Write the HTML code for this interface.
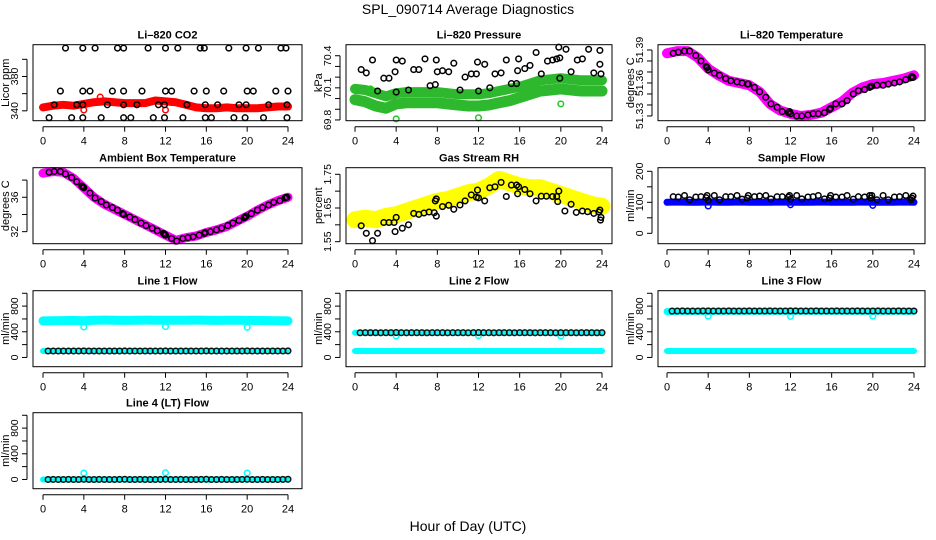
<!DOCTYPE html>
<html><head><meta charset="utf-8"><style>
html,body{margin:0;padding:0;background:#fff;}
svg{display:block;font-family:"Liberation Sans",Arial,sans-serif;}
</style></head><body>
<svg id="chart" width="936" height="540" viewBox="0 0 936 540" xmlns="http://www.w3.org/2000/svg">
<text x="468" y="14" text-anchor="middle" font-size="14">SPL_090714  Average Diagnostics</text>
<text x="468" y="531" text-anchor="middle" font-size="14">Hour of Day (UTC)</text>
</svg>
<script>
// ---- shared category arrays ----
const bandHours = [0,1,2,3,4,5,6,7,8,9,10,11,12,13,14,15,16,17,18,19,20,21,22,23,24];
const blackHours = [0.6,1.1,1.7,2.2,2.8,3.3,3.8,3.9,4.0,4.6,5.1,5.7,6.2,6.8,7.3,7.8,7.9,8.5,9.0,9.6,10.1,10.7,11.2,11.8,11.9,12.0,12.6,13.1,13.7,14.2,14.7,15.3,15.8,15.9,16.4,17.0,17.5,18.1,18.6,19.2,19.7,19.8,19.9,20.4,21.0,21.5,22.1,22.6,23.2,23.7,23.8,23.9];
const flowHours = [0.5,1.0,1.5,2.0,2.5,3.0,3.5,4.0,4.5,5.0,5.5,6.0,6.5,7.0,7.5,8.0,8.5,9.0,9.5,10.0,10.5,11.0,11.5,12.0,12.5,13.0,13.5,14.0,14.5,15.0,15.5,16.0,16.5,17.0,17.5,18.0,18.5,19.0,19.5,20.0,20.5,21.0,21.5,22.0,22.5,23.0,23.5,24.0];
const xTicks = [0,4,8,12,16,20,24];
const outlierHours = [4,12,20];

// ---- CO2 ----
const co2Band = [344,346,347,346,348,350,351,350,349,349,349,352,351,350,347,344,343,343,344,343,343,343,344,345,345];
const co2Hours = [2.2,3.9,5.1,7.3,7.9,10.3,12.0,13.2,15.4,15.8,18.2,19.9,21.1,23.3,23.8, 1.7,3.9,4.6,6.8,7.9,9.7,12.0,12.6,14.8,16.0,17.7,20.0,20.6,22.8,24.0, 1.1,3.3,3.9,6.3,7.9,9.2,11.3,11.9,14.1,15.9,17.1,19.2,19.9,22.1,23.9, 0.6,2.8,3.9,5.7,7.9,8.6,10.8,11.9,13.7,15.9,16.5,18.7,19.8,21.6,23.9];
const co2Values = [413,413,413,413,413,413,413,413,413,413,413,413,413,413,413, 363,363,363,363,363,363,363,363,363,363,363,363,363,363,363, 347,347,347,347,347,347,347,347,347,347,347,347,347,347,347, 332,332,332,332,332,332,332,332,332,332,332,332,332,332,332];
const co2OutH = [4.0,5.6,12.0];
const co2OutV = [341,356,341];

// ---- Pressure ----
const presUpper = [70.09,70.08,70.05,70.02,70.05,70.06,70.06,70.06,70.06,70.05,70.04,70.04,70.04,70.05,70.07,70.09,70.11,70.14,70.17,70.18,70.19,70.18,70.17,70.17,70.17];
const presLower = [69.99,69.97,69.93,69.91,69.95,69.96,69.96,69.96,69.96,69.95,69.94,69.93,69.93,69.94,69.96,69.98,70.01,70.04,70.07,70.08,70.09,70.08,70.07,70.07,70.07];
const presHours = [0.6,1.1,1.7,2.2,2.8,3.3,3.9,4.0,4.0,4.6,5.2,5.7,6.2,6.8,7.3,7.8,7.9,8.0,8.5,9.1,9.6,10.2,10.7,11.3,11.8,11.9,12.0,12.6,13.1,13.6,14.2,14.7,15.2,15.7,15.8,15.9,16.5,17.0,17.6,18.1,18.7,19.2,19.6,19.8,19.9,19.9,20.5,21.0,21.6,22.1,22.7,23.2,23.8,23.8,23.9];
const presValues = [70.27,70.24,70.36,70.07,70.19,70.19,70.25,70.36,70.06,70.35,70.08,70.27,70.27,70.37,70.12,70.13,70.36,70.25,70.26,70.25,70.33,70.08,70.20,70.23,70.23,70.34,70.07,70.32,70.10,70.23,70.24,70.36,70.14,70.14,70.26,70.37,70.28,70.31,70.43,70.23,70.35,70.36,70.37,70.48,70.38,70.19,70.46,70.25,70.36,70.37,70.46,70.24,70.45,70.32,70.23];
const presOutH = [1.5,4.0,12.0,20.0];
const presOutV = [70.09,69.81,69.82,69.95];

// ---- Li-820 temperature ----
const tempBand = [51.387,51.389,51.389,51.383,51.373,51.367,51.362,51.360,51.358,51.352,51.341,51.335,51.332,51.330,51.331,51.333,51.338,51.343,51.351,51.356,51.359,51.360,51.362,51.364,51.367];
const tempValues = [51.387,51.388,51.389,51.389,51.385,51.380,51.375,51.374,51.372,51.369,51.367,51.364,51.362,51.361,51.360,51.359,51.359,51.356,51.352,51.347,51.341,51.338,51.334,51.333,51.334,51.332,51.330,51.330,51.331,51.332,51.332,51.333,51.336,51.337,51.341,51.341,51.344,51.350,51.353,51.354,51.356,51.357,51.357,51.358,51.358,51.359,51.360,51.361,51.363,51.365,51.366,51.365];

// ---- Ambient box temperature ----
const ambBand = [38.8,39.0,38.9,38.2,37.1,36.0,35.2,34.6,34.0,33.4,32.8,32.2,31.6,31.0,31.3,31.5,31.9,32.2,32.6,33.2,33.8,34.5,35.1,35.6,36.0];
const ambValues = [38.9,39.0,39.0,38.7,38.3,37.8,37.3,37.2,37.1,36.5,35.9,35.5,35.1,34.8,34.5,34.1,34.0,33.7,33.4,33.0,32.7,32.4,32.1,31.8,31.7,31.6,31.2,30.9,31.2,31.3,31.4,31.6,31.8,31.9,32.0,32.2,32.4,32.7,33.0,33.3,33.6,33.7,33.8,34.1,34.5,34.8,35.1,35.4,35.6,35.9,36.0,36.0];

// ---- Gas stream RH ----
const rhBand = [1.615,1.62,1.615,1.625,1.63,1.64,1.65,1.66,1.67,1.675,1.685,1.695,1.70,1.715,1.735,1.725,1.715,1.71,1.71,1.70,1.69,1.68,1.67,1.66,1.655];
const rhHours = [0.6,1.1,1.7,2.2,2.8,3.3,3.8,3.9,4.0,4.6,5.2,5.7,6.2,6.7,7.2,7.7,7.8,7.9,7.9,8.5,9.1,9.6,10.2,10.7,11.3,11.8,11.9,12.0,12.6,13.1,13.6,14.2,14.7,15.2,15.7,15.8,15.9,16.5,17.0,17.6,18.1,18.6,19.2,19.6,19.7,19.8,20.4,21.0,21.5,22.1,22.6,23.2,23.7,23.8,23.9,23.85];
const rhValues = [1.597,1.575,1.553,1.575,1.607,1.607,1.607,1.580,1.622,1.590,1.600,1.634,1.631,1.635,1.638,1.636,1.671,1.677,1.626,1.654,1.658,1.646,1.659,1.671,1.689,1.682,1.703,1.680,1.671,1.710,1.713,1.726,1.684,1.718,1.718,1.692,1.713,1.705,1.692,1.671,1.685,1.685,1.684,1.684,1.669,1.700,1.641,1.661,1.637,1.641,1.639,1.634,1.638,1.644,1.622,1.614];

// ---- Sample flow ----
const sampleBand = [100,101,100,100,101,100,100,101,100,100,100,101,100,100,100,101,100,100,100,101,100,100,100,101,100];
const sampleValues = [118,117,122,108,117,118,115,122,106,122,108,118,118,122,110,114,122,118,120,122,111,118,118,117,122,110,122,111,117,118,122,111,114,122,117,117,122,110,118,117,122,114,122,108,122,108,117,118,122,108,114,120];
const sampleOutV = [88,92,90];

// ---- Line flows ----
const line1Cyan = [570,572,574,575,573,580,582,580,578,580,582,580,581,579,580,582,580,578,580,581,578,576,574,572,570];
const line1Low = [100,100,100,100,100,100,100,100,100,100,100,100,100,100,100,100,100,100,100,100,100,100,100,100,100];
const line1Black = [100,101,100,100,101,100,100,102,100,100,101,100,100,100,101,102,100,100,101,100,100,100,101,102,100,100,101,100,100,100,101,102,100,100,101,100,100,100,101,102,100,100,101,100,100,100,101,102];
const line1Out = [475,480,470];
const line2Cyan = [100,100,100,100,100,100,100,100,100,100,100,100,100,100,100,100,100,100,100,100,100,100,100,100,100];
const line2High = [385,385,385,385,385,385,385,385,385,385,385,385,385,385,385,385,385,385,385,385,385,385,385,385,385];
const line2Black = [384,385,386,385,384,385,386,387,385,384,385,386,385,384,385,386,385,384,385,386,385,384,385,387,386,385,384,385,386,385,384,385,386,385,384,385,386,385,384,385,386,385,384,385,386,385,384,385];
const line2Out = [335,340,335];
const line3Cyan = [100,100,100,100,100,100,100,100,100,100,100,100,100,100,100,100,100,100,100,100,100,100,100,100,100];
const line3High = [715,718,718,718,718,720,720,720,720,720,720,720,720,720,720,720,720,720,720,720,720,720,720,720,720];
const line3Black = [722,724,725,724,723,724,725,726,724,723,724,725,724,723,724,725,724,723,724,725,724,723,724,726,725,724,723,724,725,724,723,724,725,724,723,724,725,724,723,724,725,724,723,724,725,724,723,724];
const line3Out = [645,640,645];
const line4Cyan = [0,0,0,0,0,0,0,0,0,0,0,0,0,0,0,0,0,0,0,0,0,0,0,0,0];
const line4Black = [0,1,0,0,1,0,0,2,0,0,1,0,0,0,1,2,0,0,1,0,0,0,1,2,0,0,1,0,0,0,1,2,0,0,1,0,0,0,1,2,0,0,1,0,0,0,1,2];
const line4Out = [100,105,100];

// ---- layout ----
const NS = "http://www.w3.org/2000/svg";
const svg = document.getElementById('chart');
const cols = [{l:33,r:302,x0:43,x24:288},{l:346,r:612,x0:355,x24:602},{l:658,r:925,x0:667,x24:914}];
const rowTops = [44.7,167.7,290.7,412.7];
const BOXH = 76;

function mk(tag, attrs, parent){
  const e = document.createElementNS(NS, tag);
  for (const k in attrs) e.setAttribute(k, attrs[k]);
  (parent||svg).appendChild(e);
  return e;
}

function makePanel(col,row,title,ylab,ymin,ymax,yticks,ylabels,name){
  const c = cols[col], top = rowTops[row], bot = top + BOXH;
  const g = mk('g', {});
  
  
  const xs = h => c.x0 + (c.x24 - c.x0) * h / 24;
  const ys = v => bot - (v - ymin) / (ymax - ymin) * BOXH;
  const plot = mk('g', {}, g);
  
  
  const t = mk('text', {x:(c.l+c.r)/2, y:top-6, 'text-anchor':'middle', 'font-size':'11', 'font-weight':'bold'}, g);
  t.textContent = title;
  
  
  const xa = mk('g', {}, g);
  
  
  mk('line', {x1:xs(0), x2:xs(24), y1:bot+6, y2:bot+6, stroke:'#000', 'stroke-width':1}, xa);
  xTicks.forEach(h => {
    mk('line', {x1:xs(h), x2:xs(h), y1:bot+6, y2:bot+11, stroke:'#000', 'stroke-width':1}, xa);
    const tl = mk('text', {x:xs(h), y:bot+24, 'text-anchor':'middle', 'font-size':'11'}, xa);
    tl.textContent = h;
    
    
  });
  const ya = mk('g', {}, g);
  
  
  const ax = c.l - 6;
  mk('line', {x1:ax, x2:ax, y1:ys(yticks[0]), y2:ys(yticks[yticks.length-1]), stroke:'#000', 'stroke-width':1}, ya);
  yticks.forEach(v => {
    mk('line', {x1:ax-5, x2:ax, y1:ys(v), y2:ys(v), stroke:'#000', 'stroke-width':1}, ya);
  });
  ylabels.forEach(v => {
    const tx = ax - 9, ty = ys(v);
    const tl = mk('text', {x:tx, y:ty, 'text-anchor':'middle', 'font-size':'10.5', transform:`rotate(-90 ${tx} ${ty})`}, ya);
    tl.textContent = v;
    
    
  });
  const yt = c.l - 24, ym = (top+bot)/2;
  const ytl = mk('text', {x:yt, y:ym, 'text-anchor':'middle', 'font-size':'11', transform:`rotate(-90 ${yt} ${ym})`}, g);
  ytl.textContent = ylab;
  
  
  return {g, plot, xs, ys, box:[c.l, top, c.r, bot], name};
}

function band(p, hours, vals, color, width){
  const pts = hours.map((h,i) => p.xs(h).toFixed(1) + ',' + p.ys(vals[i]).toFixed(1)).join(' ');
  const pl = mk('polyline', {points:pts, fill:'none', stroke:color, 'stroke-width':width, 'stroke-linejoin':'round', 'stroke-linecap':'round'}, p.plot);
  
  
}
function dots(p, hours, vals, color, r){
  hours.forEach((h,i) => {
    const ci = mk('circle', {cx:p.xs(h).toFixed(1), cy:p.ys(vals[i]).toFixed(1), r:r||2.8, fill:'none', stroke:color, 'stroke-width':1.5}, p.plot);
    
    
  });
}
function frame(p){
  const [l,t,r,b] = p.box;
  const rc = mk('rect', {x:l, y:t, width:r-l, height:b-t, fill:'none', stroke:'#000', 'stroke-width':1}, p.g);
  
  
}

let p;
// CO2
p = makePanel(0,0,'Li\u2013820 CO2','Licor ppm',328.5,417,[340,360,380,400],[340,380],'co2');
band(p, bandHours, co2Band, '#ff0000', 8);
dots(p, co2OutH, co2OutV, '#ff0000');
dots(p, co2Hours, co2Values, '#000');
frame(p);
// Pressure
p = makePanel(1,0,'Li\u2013820 Pressure','kPa',69.793,70.503,[69.8,69.9,70.0,70.1,70.2,70.3,70.4],['69.8','70.1','70.4'],'pressure');
band(p, bandHours, presUpper, '#2db82d', 10);
band(p, bandHours, presLower, '#2db82d', 11);
dots(p, presOutH, presOutV, '#22c722');
dots(p, presHours, presValues, '#000');
frame(p);
// Temperature
p = makePanel(2,0,'Li\u2013820 Temperature','degrees C',51.3257,51.3948,[51.33,51.34,51.35,51.36,51.37,51.38,51.39],['51.33','51.36','51.39'],'li820-temperature');
band(p, bandHours, tempBand, '#ff00ff', 10);
dots(p, blackHours, tempValues, '#000');
frame(p);
// Ambient
p = makePanel(0,1,'Ambient Box Temperature','degrees C',30.6,39.44,[32,34,36,38],[32,36],'ambient-temperature');
band(p, bandHours, ambBand, '#ff00ff', 9);
dots(p, blackHours, ambValues, '#000');
frame(p);
// RH
p = makePanel(1,1,'Gas Stream RH','percent',1.544,1.7696,[1.55,1.60,1.65,1.70,1.75],['1.55','1.65','1.75'],'gas-stream-rh');
band(p, bandHours, rhBand, '#ffff00', 17);
dots(p, rhHours, rhValues, '#000');
frame(p);
// Sample flow
p = makePanel(2,1,'Sample Flow','ml/min',-33.5,211.6,[0,50,100,150,200],[0,100,200],'sample-flow');
band(p, bandHours, sampleBand, '#0000ff', 7);
dots(p, outlierHours, sampleOutV, '#0000ff');
dots(p, blackHours, sampleValues, '#000');
frame(p);
// Line flows
const fT = [0,200,400,600,800,1000], fL = [0,400,800];
p = makePanel(0,2,'Line 1 Flow','ml/min',-144,1040,fT,fL,'line1-flow');
band(p, bandHours, line1Cyan, '#00ffff', 9);
band(p, bandHours, line1Low, '#00ffff', 6);
dots(p, outlierHours, line1Out, '#00ffff');
dots(p, flowHours, line1Black, '#111');
frame(p);
p = makePanel(1,2,'Line 2 Flow','ml/min',-144,1040,fT,fL,'line2-flow');
band(p, bandHours, line2Cyan, '#00ffff', 6);
band(p, bandHours, line2High, '#00ffff', 6);
dots(p, outlierHours, line2Out, '#00ffff');
dots(p, flowHours, line2Black, '#111');
frame(p);
p = makePanel(2,2,'Line 3 Flow','ml/min',-144,1040,fT,fL,'line3-flow');
band(p, bandHours, line3Cyan, '#00ffff', 6);
band(p, bandHours, line3High, '#00ffff', 7);
dots(p, outlierHours, line3Out, '#00ffff');
dots(p, flowHours, line3Black, '#111');
frame(p);
p = makePanel(0,3,'Line 4 (LT) Flow','ml/min',-144,1040,fT,fL,'line4-flow');
band(p, bandHours, line4Cyan, '#00ffff', 6);
dots(p, outlierHours, line4Out, '#00ffff');
dots(p, flowHours, line4Black, '#111');
frame(p);
</script>
</body></html>
